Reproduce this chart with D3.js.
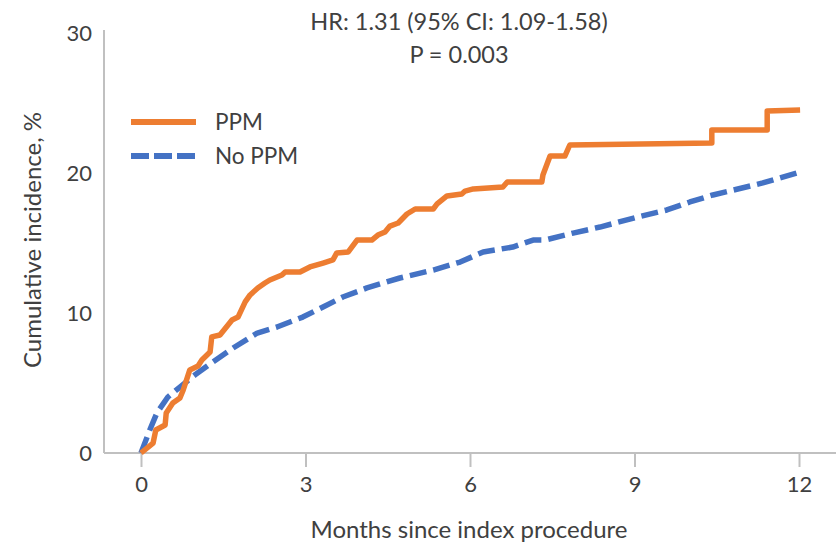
<!DOCTYPE html>
<html>
<head>
<meta charset="utf-8">
<script src="https://cdn.jsdelivr.net/npm/d3@7"></script>
<style>
  html, body { margin: 0; padding: 0; background: #fff; }
  svg { display: block; }
  text { font-family: Lato, "Open Sans", sans-serif; fill: #404040; }
</style>
</head>
<body>
<svg id="chart" width="836" height="545"></svg>
<script>
// Cumulative incidence curves (months, %)
const ppmMonths = [0, 0.22, 0.27, 0.44, 0.46, 0.58, 0.71, 0.77, 0.89, 1.04, 1.11, 1.26, 1.29, 1.44, 1.66, 1.77, 1.90, 1.99, 2.13, 2.26, 2.35, 2.57, 2.63, 2.90, 3.08, 3.32, 3.50, 3.57, 3.78, 3.94, 4.21, 4.32, 4.45, 4.54, 4.69, 4.85, 5.00, 5.33, 5.40, 5.58, 5.85, 5.91, 6.06, 6.60, 6.68, 7.31, 7.33, 7.46, 7.73, 7.82, 10.41, 10.41, 11.42, 11.42, 12.02];
const ppmIncidence = [0, 0.71, 1.64, 2.0, 2.86, 3.57, 3.93, 4.5, 5.93, 6.21, 6.64, 7.21, 8.29, 8.43, 9.5, 9.71, 10.79, 11.29, 11.79, 12.14, 12.36, 12.71, 12.93, 12.93, 13.29, 13.57, 13.79, 14.29, 14.36, 15.21, 15.21, 15.57, 15.79, 16.21, 16.43, 17.07, 17.43, 17.43, 17.79, 18.36, 18.5, 18.71, 18.86, 19.0, 19.36, 19.36, 19.86, 21.21, 21.21, 22.0, 22.14, 23.07, 23.07, 24.43, 24.5];

const noPpmMonths = [0, 0.16, 0.29, 0.49, 0.71, 0.98, 1.31, 1.68, 2.12, 2.48, 2.95, 3.32, 3.68, 4.12, 4.72, 5.33, 5.82, 6.24, 6.78, 7.15, 7.37, 7.88, 8.37, 9.06, 9.59, 10.01, 10.43, 11.34, 12.02];
const noPpmIncidence = [0, 1.64, 2.86, 4.0, 4.71, 5.57, 6.5, 7.5, 8.57, 9.0, 9.71, 10.43, 11.14, 11.79, 12.5, 13.07, 13.64, 14.36, 14.71, 15.21, 15.21, 15.71, 16.14, 16.86, 17.36, 17.93, 18.43, 19.29, 20.07];

const seriesNames = ["PPM", "No PPM"];
const seriesColors = ["#ED7D31", "#4472C4"];
const xTicks = [0, 3, 6, 9, 12];
const yTicks = [0, 10, 20, 30];
const annotation = ["HR: 1.31 (95% CI: 1.09-1.58)", "P = 0.003"];
const xTitle = "Months since index procedure";
const yTitle = "Cumulative incidence, %";

const svg = d3.select("#chart");
const x = d3.scaleLinear().domain([0, 12]).range([141, 799]);
const y = d3.scaleLinear().domain([0, 30]).range([453, 33]);
const axisColor = "#c0c0c0";

// Axis lines
svg.append("line")
  .attr("x1", 104).attr("x2", 104).attr("y1", 30).attr("y2", 453)
  .attr("stroke", axisColor).attr("stroke-width", 2);
svg.append("line")
  .attr("x1", 104).attr("x2", 836).attr("y1", 453).attr("y2", 453)
  .attr("stroke", axisColor).attr("stroke-width", 2);

// X axis ticks and labels
const gx = svg.append("g").attr("transform", "translate(0,453)")
  .call(d3.axisBottom(x).tickValues(xTicks).tickSize(14).tickPadding(9).tickFormat(d3.format("d")));
gx.select(".domain").remove();
gx.selectAll(".tick line").attr("stroke", axisColor).attr("stroke-width", 2);
gx.selectAll(".tick text").style("font-size", "22px").attr("fill", "#404040");

// Y axis labels
const gy = svg.append("g").attr("transform", "translate(104,0)")
  .call(d3.axisLeft(y).tickValues(yTicks).tickSize(0).tickPadding(12).tickFormat(d3.format("d")));
gy.select(".domain").remove();
gy.selectAll(".tick text").style("font-size", "22px").attr("fill", "#404040");

// Axis titles
svg.append("text")
  .attr("x", 469).attr("y", 538)
  .attr("text-anchor", "middle")
  .style("font-size", "24px")
  .text(xTitle);
svg.append("text")
  .attr("transform", "translate(41,240) rotate(-90)")
  .attr("text-anchor", "middle")
  .style("font-size", "24px")
  .text(yTitle);

// Annotation
svg.append("text").attr("x", 459).attr("y", 30).attr("text-anchor", "middle")
  .style("font-size", "23.5px").text(annotation[0]);
svg.append("text").attr("x", 459).attr("y", 63).attr("text-anchor", "middle")
  .style("font-size", "23.5px").text(annotation[1]);

// Curves
const line = d3.line().x(d => x(d[0])).y(d => y(d[1])).curve(d3.curveLinear);
const noPpmData = noPpmMonths.map((m, i) => [m, noPpmIncidence[i]]);
const ppmData = ppmMonths.map((m, i) => [m, ppmIncidence[i]]);

svg.append("path").datum(noPpmData)
  .attr("d", line).attr("fill", "none")
  .attr("stroke", seriesColors[1]).attr("stroke-width", 5.5)
  .attr("stroke-dasharray", "17,7").attr("stroke-linejoin", "round");
svg.append("path").datum(ppmData)
  .attr("d", line).attr("fill", "none")
  .attr("stroke", seriesColors[0]).attr("stroke-width", 5.5)
  .attr("stroke-linejoin", "round");

// Legend
const legend = svg.append("g");
seriesNames.forEach((name, i) => {
  const ly = 122 + i * 34;
  legend.append("line")
    .attr("x1", 131).attr("x2", 196).attr("y1", ly).attr("y2", ly)
    .attr("stroke", seriesColors[i]).attr("stroke-width", 6)
    .attr("stroke-dasharray", i === 1 ? "18,5" : null);
  legend.append("text")
    .attr("x", 215).attr("y", ly + 8)
    .style("font-size", "22.5px")
    .text(name);
});
</script>
</body>
</html>
